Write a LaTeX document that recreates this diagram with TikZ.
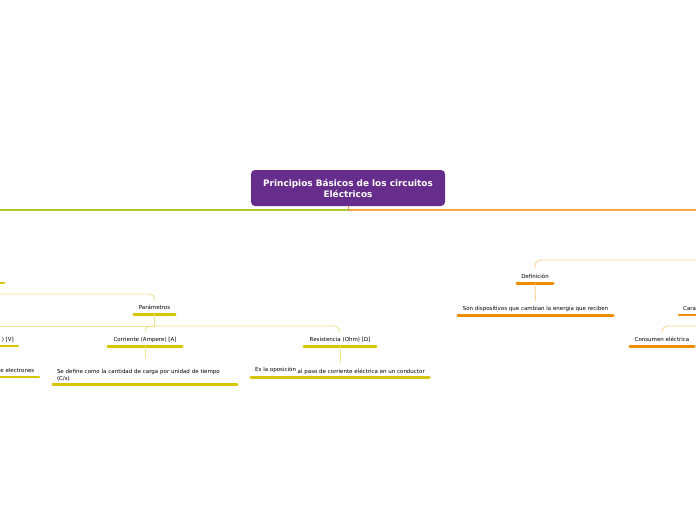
\documentclass[tikz,border=0pt]{standalone}
\usepackage{fontspec}
\setmainfont{DejaVu Sans}
\definecolor{titlepurple}{RGB}{103,45,140}
\definecolor{lgreen}{RGB}{172,200,44}
\definecolor{lorange}{RGB}{245,168,64}
\definecolor{ybar}{RGB}{214,198,0}
\definecolor{yconn}{RGB}{238,228,140}
\definecolor{obar}{RGB}{240,140,0}
\definecolor{oconn}{RGB}{250,212,150}
\tikzset{
  titlebox/.style={fill=titlepurple, rounded corners=4pt, text=white, font=\fontsize{8.9}{11}\selectfont\bfseries, align=center, minimum width=194pt, minimum height=36pt, inner sep=0pt},
  topic/.style={font=\fontsize{5.5}{7}\selectfont, inner xsep=0pt, inner ysep=0pt, minimum height=14pt, text depth=0pt},
  ybarline/.style={draw=ybar, line width=2.6pt, line cap=round},
  obarline/.style={draw=obar, line width=2.6pt, line cap=round},
  yc/.style={draw=yconn, line width=0.9pt},
  oc/.style={draw=oconn, line width=0.9pt},
}
\begin{document}
\begin{tikzpicture}[x=1pt,y=-1pt]
\useasboundingbox (0,0) rectangle (696,520);
\fill[white] (0,0) rectangle (696,520);
\begin{scope}
\clip (0,0) rectangle (696,520);
% main branches
\node[titlebox] (title) at (348,188) {Principios Básicos de los circuitos\\Eléctricos};
\coordinate (mj) at (348,210);
\coordinate (leftend) at (-2,210);
\coordinate (rightend) at (698,210);
\draw[draw=lgreen, line width=1.1pt] (mj) -- (leftend);
\draw[draw=lorange, line width=1.1pt] (mj) -- (rightend);
\draw[draw=lorange!70!brown, line width=0.9pt] (title.south) -- (mj);

% left subtree
\coordinate (lb1) at (-4,283);
\coordinate (lb2) at (4,283);
\draw[ybarline] (lb1) -- (lb2);
\node[topic, minimum width=41pt] (param) at (154.5,307) {Parámetros};
\draw[ybarline] (param.south west) -- (param.south east);
\coordinate (pin) at (-2,294);
\draw[yc, rounded corners=5pt] (pin) -| (param.north);

\coordinate (pj) at (154.5,326);
\draw[yc] (param.south) -- (pj);
\coordinate (pout) at (-2,326);
\draw[yc] (pj) -- (pout);

\node[topic, anchor=east] (volt) at (14,339) {) [V]};
\coordinate (vb1) at (-4,346);
\coordinate (vb2) at (18,346);
\draw[ybarline] (vb1) -- (vb2);

\node[topic, minimum width=74pt] (corr) at (145,339) {Corriente (Ampere) [A]};
\draw[ybarline] (corr.south west) -- (corr.south east);
\draw[yc, rounded corners=5pt] (pj) -| (corr.north);

\node[topic, minimum width=72pt] (res) at (340,339) {Resistencia (Ohm) [Ω]};
\draw[ybarline] (res.south west) -- (res.south east);
\draw[yc, rounded corners=6pt] (pj) -| (res.north);

\node[topic, anchor=east] (elec) at (34.5,370) {e electrones};
\coordinate (eb1) at (-4,377);
\coordinate (eb2) at (39,377);
\draw[ybarline] (eb1) -- (eb2);

\node[topic, text width=176pt, inner xsep=4pt, align=left, minimum height=26pt] (corrd) at (145,371) {Se define como la cantidad de carga por unidad de tiempo\\(C/s)};
\draw[ybarline] (corrd.south west) -- (corrd.south east);
\draw[yc] (corr.south) -- (corrd.north);

\node[topic, minimum width=178pt] (resd) at (340,370) {\raisebox{1.6pt}{Es la oposición} al paso de corriente eléctrica en un conductor};
\draw[ybarline] (resd.south west) -- (resd.south east);
\draw[yc] (res.south) -- (resd.north);

% right subtree
\node[topic, minimum width=36pt] (def) at (535,276) {Definición};
\draw[obarline] (def.south west) -- (def.south east);
\coordinate (din) at (698,260);
\draw[oc, rounded corners=6pt] (din) -| (def.north);

\node[topic, minimum width=155pt] (defd) at (535.5,308) {Son dispositivos que cambian la energía que reciben};
\draw[obarline] (defd.south west) -- (defd.south east);
\draw[oc] (def.south) -- (defd.north);

\node[topic, anchor=west] (cara) at (683,308) {Cara};
\coordinate (cb1) at (679,315);
\coordinate (cb2) at (700,315);
\draw[obarline] (cb1) -- (cb2);

\node[topic, minimum width=64pt] (cons) at (662,339) {Consumen eléctrica};
\draw[obarline] (cons.south west) -- (cons.south east);
\coordinate (cin) at (698,326);
\draw[oc, rounded corners=6pt] (cin) -| (cons.north);
\end{scope}
\end{tikzpicture}
\end{document}
